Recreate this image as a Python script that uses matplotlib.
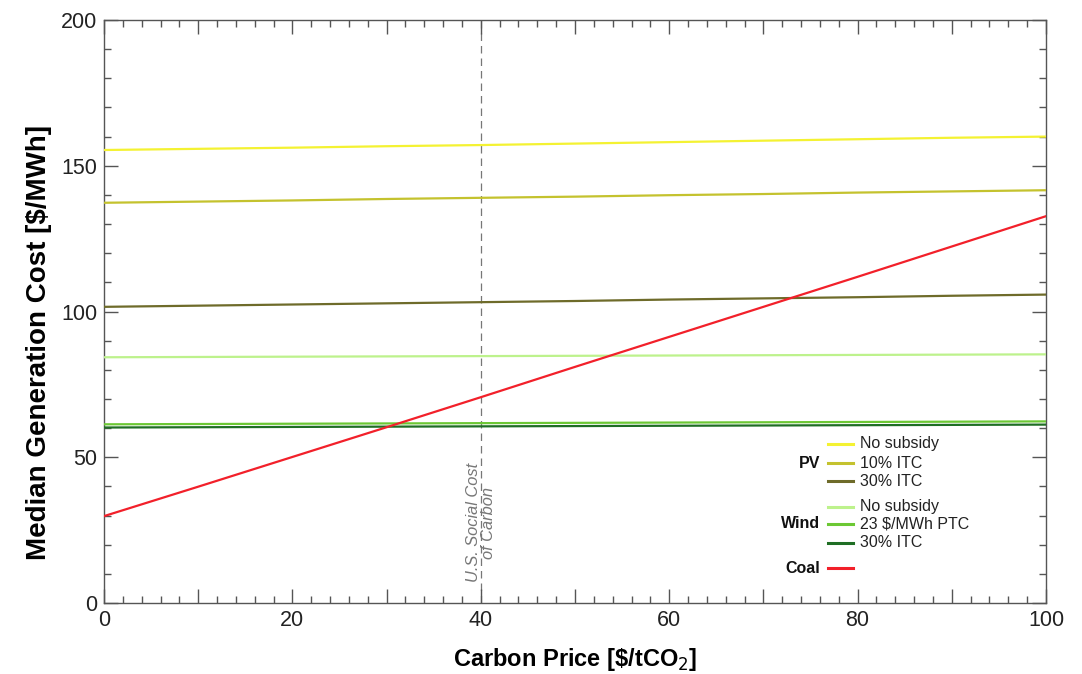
"""
Median generation cost of PV, wind and coal against carbon price.
"""

import matplotlib
matplotlib.use("Agg")
import matplotlib.pyplot as plt
from matplotlib.lines import Line2D
from matplotlib.ticker import MultipleLocator, FuncFormatter

plt.rcParams["font.family"] = ["Liberation Sans", "DejaVu Sans"]

# carbon price grid [$/tCO2]
carbon_price = [0, 10, 20, 30, 40, 50, 60, 70, 80, 90, 100]

# median generation cost [$/MWh]
pv_no_subsidy = [155.4, 155.8, 156.2, 156.7, 157.1, 157.6, 158.1, 158.6, 159.1, 159.6, 160.0]
pv_10_itc = [137.3, 137.7, 138.1, 138.6, 139.0, 139.4, 139.9, 140.3, 140.8, 141.2, 141.6]
pv_30_itc = [101.6, 102.0, 102.4, 102.8, 103.2, 103.6, 104.1, 104.5, 104.9, 105.4, 105.8]
wind_no_subsidy = [84.3, 84.4, 84.5, 84.6, 84.7, 84.8, 84.9, 85.0, 85.1, 85.2, 85.3]
wind_ptc = [61.3, 61.4, 61.5, 61.6, 61.7, 61.8, 61.9, 62.0, 62.1, 62.2, 62.3]
wind_30_itc = [60.2, 60.3, 60.4, 60.5, 60.6, 60.7, 60.8, 60.9, 61.0, 61.1, 61.2]
coal = [29.8, 39.9, 50.1, 60.3, 70.6, 81.0, 91.3, 101.6, 111.9, 122.3, 132.7]

social_cost_of_carbon = 40

series = [
    ("", "No subsidy", pv_no_subsidy, "#f4f232"),
    ("PV", "10% ITC", pv_10_itc, "#c4c22e"),
    ("", "30% ITC", pv_30_itc, "#6e6b2a"),
    ("", "No subsidy", wind_no_subsidy, "#bdf28c"),
    ("Wind", "23 $/MWh PTC", wind_ptc, "#6cc834"),
    ("", "30% ITC", wind_30_itc, "#1f6e24"),
    ("Coal", "", coal, "#f2202a"),
]

fig = plt.figure(figsize=(10.82, 6.74), dpi=100)
ax = fig.add_axes([104 / 1082, 1 - 603 / 674, 942 / 1082, 583 / 674])

for group, label, values, color in series:
    ax.plot(carbon_price, values, color=color, lw=1.6, zorder=3)

# social cost of carbon marker
ax.axvline(social_cost_of_carbon, color="#777777", lw=0.9, ls=(0, (6, 4)), zorder=1)
ax.text(social_cost_of_carbon, 27.5, "U.S. Social Cost\nof Carbon", rotation=90,
        ha="center", va="center", multialignment="center", style="italic",
        fontsize=11.8, color="#777777", linespacing=1.05, zorder=2)

ax.set_xlim(0, 100)
ax.set_ylim(0, 200)
ax.xaxis.set_major_locator(MultipleLocator(10))
ax.xaxis.set_minor_locator(MultipleLocator(2))
ax.xaxis.set_major_formatter(FuncFormatter(lambda v, p: f"{v:.0f}" if v % 20 == 0 else ""))
ax.yaxis.set_major_locator(MultipleLocator(50))
ax.yaxis.set_minor_locator(MultipleLocator(10))
ax.tick_params(which="both", direction="in", top=True, right=True, color="#555555",
               labelsize=15.5, labelcolor="#222222", width=1.0)
ax.tick_params(which="major", length=10, pad=5)
ax.tick_params(which="minor", length=5)
for spine in ax.spines.values():
    spine.set_color("#555555")
    spine.set_linewidth(1.0)

ax.set_xlabel(r"Carbon Price [\$/tCO$_2$]", fontsize=17, fontweight="bold", labelpad=11)
ax.set_ylabel(r"Median Generation Cost [\$/MWh]", fontsize=20, fontweight="bold",
              labelpad=6, y=0.446)

# hand-built grouped legend
rows_y = [0.273, 0.240, 0.209, 0.165, 0.136, 0.103, 0.060]
for (group, label, values, color), y in zip(series, rows_y):
    ax.add_line(Line2D([0.769, 0.795], [y, y], transform=ax.transAxes,
                       color=color, lw=2.2, zorder=4))
    if label:
        ax.text(0.803, y, label, transform=ax.transAxes, ha="left", va="center",
                fontsize=11.5, color="#222222")
    if group:
        ax.text(0.760, y, group, transform=ax.transAxes, ha="right", va="center",
                fontsize=11.5, fontweight="bold", color="#111111")

fig.savefig("out.png", dpi=100)
